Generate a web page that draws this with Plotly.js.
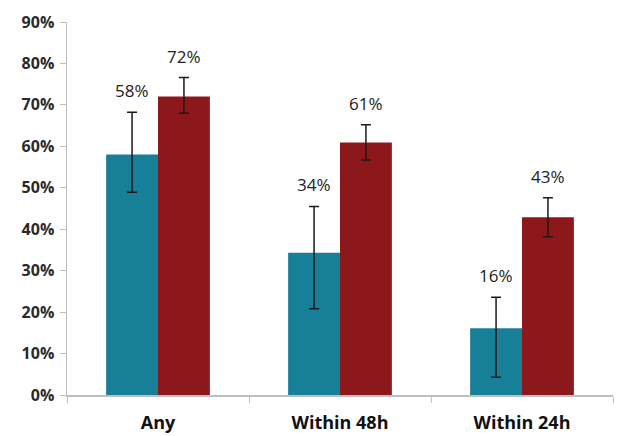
<!DOCTYPE html>
<html><head><meta charset="utf-8">
<script src="https://cdn.plot.ly/plotly-3.0.1.min.js"></script>
<style>html,body{margin:0;padding:0;background:#fff}#c{width:625px;height:436px}</style>
</head><body><div id="c"></div>
<script>
const categories = ["Any", "Within 48h", "Within 24h"];
const seriesA = [58.0, 34.3, 16.1];
const seriesAUpper = [68.2, 45.5, 23.6];
const seriesALower = [48.9, 20.8, 4.3];
const seriesB = [72.0, 60.9, 42.9];
const seriesBUpper = [76.6, 65.2, 47.6];
const seriesBLower = [68.0, 56.7, 38.2];
const labelsA = ["58%", "34%", "16%"];
const labelsB = ["72%", "61%", "43%"];
const yTickVals = [0,10,20,30,40,50,60,70,80,90];
const yTickText = ["0%","10%","20%","30%","40%","50%","60%","70%","80%","90%"];

function mk(vals, up, lo, color, name){
  return {type:'bar', x:categories, y:vals, name:name,
    marker:{color:color, line:{width:0}},
    error_y:{type:'data', symmetric:false,
      array: up.map((u,i)=>u-vals[i]), arrayminus: vals.map((v,i)=>v-lo[i]),
      color:'#1a1a1a', thickness:1.5, width:5},
    hoverinfo:'none'};
}
const data = [mk(seriesA, seriesAUpper, seriesALower, '#187f98', 'A'),
              mk(seriesB, seriesBUpper, seriesBLower, '#8c181c', 'B')];
const ann = [];
const lf = {family:'Open Sans, sans-serif', size:17, color:'#222'};
categories.forEach((c,i)=>{
  ann.push({x:c, y:seriesAUpper[i], text:labelsA[i], showarrow:false, xanchor:'center', yanchor:'bottom', xshift:-26, yshift:8, font:lf});
  ann.push({x:c, y:seriesBUpper[i], text:labelsB[i], showarrow:false, xanchor:'center', yanchor:'bottom', xshift:26, yshift:8, font:lf});
});
const layout = {
  width:625, height:436, margin:{l:67, r:12, t:22, b:41},
  paper_bgcolor:'#fff', plot_bgcolor:'#fff', showlegend:false,
  barmode:'group', bargap:0.43, bargroupgap:0,
  xaxis:{type:'category', showline:true, linecolor:'#bfbfbf', linewidth:1.5, tickson:'boundaries', ticks:'outside', ticklen:6, tickcolor:'#bfbfbf', showgrid:false, zeroline:false,
    tickfont:{family:'Open Sans, sans-serif', size:18, color:'#111', weight:'bold'}, ticklabelstandoff:11},
  yaxis:{range:[0,90], tickvals:yTickVals, ticktext:yTickText, showline:true, linecolor:'#bfbfbf', linewidth:1.5, ticks:'outside', ticklen:6, tickcolor:'#bfbfbf', showgrid:false, zeroline:false,
    tickfont:{family:'Open Sans, sans-serif', size:16, color:'#2a2a2a', weight:'bold'}, ticklabelstandoff:2},
  annotations: ann
};
Plotly.newPlot('c', data, layout, {staticPlot:true});
</script></body></html>
